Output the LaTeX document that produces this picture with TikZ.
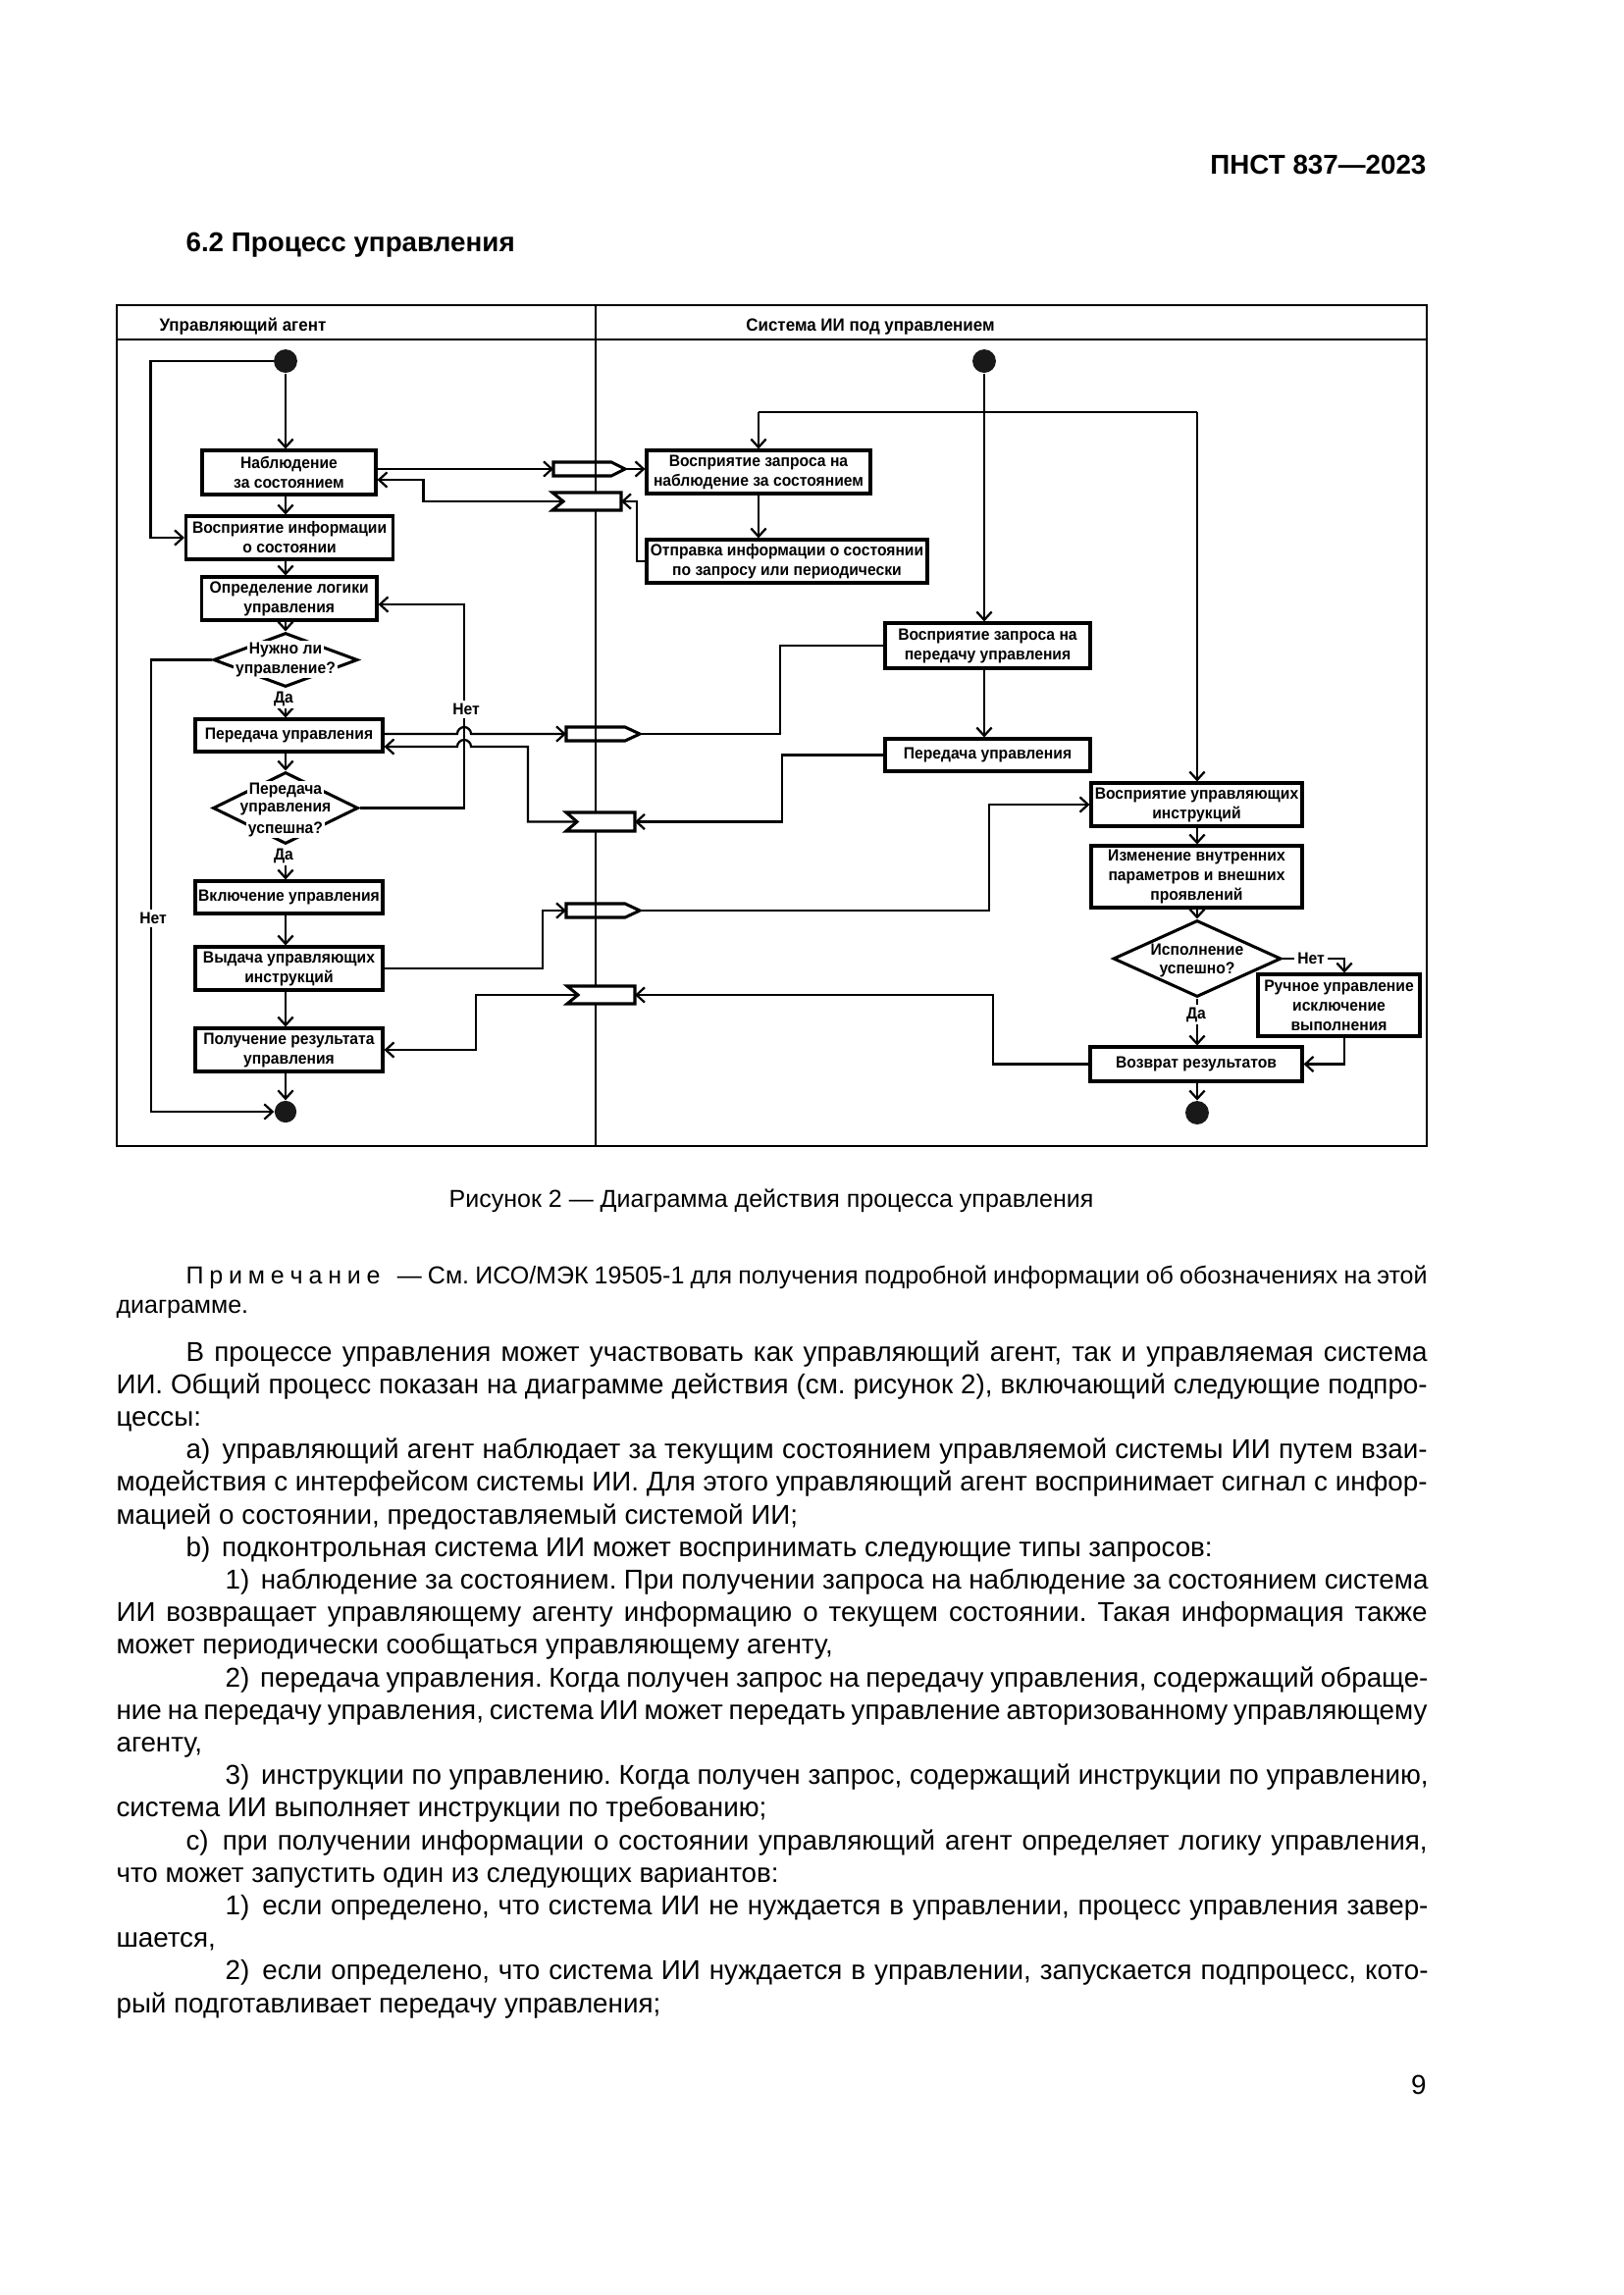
\documentclass[tikz,border=0pt]{standalone}
\usepackage{fontspec}
\setmainfont{Liberation Sans}
\newfontfamily\dfont[FakeStretch=0.94]{Liberation Sans}
\usetikzlibrary{arrows.meta,shapes.geometric}
\newcommand\dgf{\dfont\bfseries\fontsize{6}{7.2}\selectfont}
\newcommand\lanef{\dfont\bfseries\fontsize{6.5}{7.8}\selectfont}
\newcommand\bodyf{\fontsize{10}{12}\selectfont}
\newcommand\notef{\fontsize{9}{10.8}\selectfont}
\newcommand\drawbox[6]{\node[box,minimum width={(#4-#2)*0.36pt},minimum height={(#5-#3)*0.36pt}] (#1) at ({(#2+#4)/2},{(#3+#5)/2}) {#6};}
\frenchspacing
\begin{document}
\begin{tikzpicture}[x=0.36pt,y=-0.36pt,
  box/.style={draw,line width=1.1pt,inner sep=0pt,align=center,font=\dgf,fill=white},
  dia/.style={diamond,draw,line width=1.1pt,inner sep=0pt},
  dtxt/.style={font=\dgf,fill=white,inner sep=0.6pt},
  lbl/.style={font=\dgf,fill=white,inner sep=1pt},
  conn/.style={line width=0.8pt},
  arr/.style={conn,-{Straight Barb[length=3pt,width=5.5pt]}},
  sig/.style={line width=1.1pt},
  dot/.style={circle,fill=black!90,inner sep=0pt},
  txt/.style={anchor=base west,inner sep=0pt,font=\bodyf},
  ntxt/.style={anchor=base west,inner sep=0pt,font=\notef}]
\useasboundingbox[fill=white] (0,0) rectangle (1654,2339);

% header and title
\node[anchor=base east,inner sep=0pt,font=\bfseries\fontsize{10}{12}\selectfont] (hdr) at (1454,177) {ПНСТ 837—2023};
\node[anchor=base west,inner sep=0pt,font=\bfseries\fontsize{10}{12}\selectfont] (ttl) at (189,256) {6.2 Процесс управления};

% frame
\draw[line width=0.9pt] (119,311) rectangle (1454,1168);
\draw[line width=0.9pt] (119,346) -- (1454,346);
\draw[line width=0.9pt] (607,311) -- (607,1168);
\node[anchor=west,font=\lanef,inner sep=0pt] (laneA) at (162,333) {Управляющий агент};
\node[font=\lanef,inner sep=0pt] (laneB) at (887,333) {Система ИИ под управлением};

% left lane nodes
\node[dot,minimum size=8.6pt] (init1) at (291,368) {};
\drawbox{N1}{206}{459}{383}{504}{Наблюдение\\за состоянием}
\drawbox{V1}{189.5}{526}{400.7}{570}{Восприятие информации\\о состоянии}
\drawbox{D1}{205.5}{588}{384}{632}{Определение логики\\управления}
\node[dia,minimum width={147*0.36pt},minimum height={55*0.36pt}] (Q1) at (291,672.5) {};
\drawbox{P1}{199}{733}{390}{766}{Передача управления}
\node[dia,minimum width={148*0.36pt},minimum height={73*0.36pt}] (Q2) at (291,823.5) {};
\drawbox{B1}{199}{898}{390}{931}{Включение управления}
\drawbox{I1}{199}{965}{390}{1009}{Выдача управляющих\\инструкций}
\drawbox{G1}{199}{1048}{390}{1092}{Получение результата\\управления}
\node[dot,minimum size=8pt] (final1) at (291,1133) {};

% right lane nodes
\node[dot,minimum size=8.6pt] (init2) at (1003,368) {};
\drawbox{W1}{659}{459}{887}{503}{Восприятие запроса на\\наблюдение за состоянием}
\drawbox{O1}{659}{550}{945}{594}{Отправка информации о состоянии\\по запросу или периодически}
\drawbox{W2}{902}{635}{1111}{681}{Восприятие запроса на\\передачу управления}
\drawbox{P2}{902}{753}{1111}{786}{Передача управления}
\drawbox{W3}{1112}{798}{1327}{842}{Восприятие управляющих\\инструкций}
\drawbox{C1}{1112}{862}{1327}{925}{Изменение внутренних\\параметров и внешних\\проявлений}
\node[dia,minimum width={171*0.36pt},minimum height={78*0.36pt}] (Q3) at (1220,977) {};
\drawbox{M1}{1282}{993}{1447}{1056}{Ручное управление\\исключение\\выполнения}
\drawbox{V2}{1111}{1067}{1327}{1102}{Возврат результатов}
\node[dot,minimum size=8.6pt] (final2) at (1220,1134) {};

% signals
\coordinate (s1a) at (564,478); \coordinate (s1b) at (637,478);
\coordinate (s2a) at (577,748); \coordinate (s2b) at (652,748);
\coordinate (s3a) at (577,928); \coordinate (s3b) at (652,928);
\coordinate (r1a) at (574,511); \coordinate (r1b) at (633,511);
\coordinate (r2a) at (588,837.5); \coordinate (r2b) at (647,837.5);
\coordinate (r3a) at (589,1014); \coordinate (r3b) at (647,1014);
\draw[sig] (564,471) -- (623,471) -- (s1b) -- (623,485) -- (564,485) -- cycle;
\draw[sig] (577,741) -- (637,741) -- (s2b) -- (637,755) -- (577,755) -- cycle;
\draw[sig] (577,921) -- (637,921) -- (s3b) -- (637,935) -- (577,935) -- cycle;
\draw[sig,fill=white] (563,502) -- (633,502) -- (633,520) -- (563,520) -- (r1a) -- cycle;
\draw[sig,fill=white] (577,828) -- (647,828) -- (647,847) -- (577,847) -- (r2a) -- cycle;
\draw[sig,fill=white] (578,1005) -- (647,1005) -- (647,1023) -- (578,1023) -- (r3a) -- cycle;

% left lane flows
\draw[arr] (init1.south) -- (init1.south |- N1.north);
\draw[arr] (init1.west) -- ++(-125,0) |- (V1.west);
\draw[arr] (N1.south -| init1) -- (V1.north -| init1);
\draw[arr] (V1.south -| init1) -- (D1.north -| init1);
\draw[arr] (D1.south -| init1) -- (Q1.north);
\draw[arr] (Q1.south) -- (Q1.south |- P1.north);
\draw[arr] (P1.south -| Q2) -- (Q2.north);
\draw[arr] (Q2.south) -- (Q2.south |- B1.north);
\draw[arr] (B1.south -| Q2) -- (I1.north -| Q2);
\draw[arr] (I1.south -| Q2) -- (G1.north -| Q2);
\draw[arr] (G1.south -| final1) -- (final1.north);
\draw[arr] (Q1.west) -- ++(-62,0) |- (final1.west);
\coordinate (nR) at (473,616);
\draw[arr] (Q2.east) -| (nR) -- (nR -| D1.east);

% signal flows
\draw[arr] (s1a -| N1.east) -- (s1a);
\draw[arr] (s1b) -- (s1b -| W1.west);
\draw[arr] (O1.west) -| (649,511) -- (r1b);
\draw[arr] (r1a) -| (431.6,489) -- (N1.east |- 0,489);
\draw[arr] (P1.east |- 0,748) -- (466,748) arc[start angle=180,end angle=0,radius=2.52pt] -- (s2a);
\draw[arr] (r2a) -| (538,761) -- (480,761) arc[start angle=0,end angle=180,radius=2.52pt] -- (P1.east |- 0,761);
\draw[conn] (W2.west) -| (795,748) -- (s2b);
\draw[arr] (P2.west) -| (797,837.5) -- (r2b);
\draw[arr] (I1.east) -| (553,928) -- (s3a);
\draw[arr] (s3b) -| (1008,820) -- (W3.west);
\draw[arr] (V2.west) -| (1012,1014) -- (r3b);
\draw[arr] (r3a) -| (485,1070) -- (G1.east);

% right lane flows
\coordinate (fork1) at (773,420); \coordinate (fork2) at (1220,420);
\draw[arr] (init2.south) -- (init2.south |- W2.north);
\draw[conn] (fork1) -- (fork2);
\draw[arr] (fork1) -- (fork1 |- W1.north);
\draw[arr] (fork2) -- (fork2 |- W3.north);
\draw[arr] (W1.south -| fork1) -- (O1.north -| fork1);
\draw[arr] (W2.south -| init2) -- (P2.north -| init2);
\draw[arr] (W3.south -| fork2) -- (C1.north -| fork2);
\draw[arr] (C1.south -| Q3) -- (Q3.north);
\coordinate (mX) at (1370,977);
\draw[arr] (Q3.east) -- (mX) -- (mX |- M1.north);
\draw[arr] (M1.south -| mX) |- (V2.east);
\draw[arr] (Q3.south) -- (Q3.south |- V2.north);
\draw[arr] (V2.south -| final2) -- (final2.north);

% diamond texts and labels
\node[dtxt] (q1a) at (291,662) {Нужно ли};
\node[dtxt] (q1b) at (291,682) {управление?};
\node[dtxt] (q2a) at (291,805) {Передача};
\node[dtxt] (q2b) at (291,825) {управления};
\node[dtxt] (q2c) at (291,845) {успешна?};
\node[font=\dgf,inner sep=0pt] (q3a) at (1220,968) {Исполнение};
\node[font=\dgf,inner sep=0pt] (q3b) at (1220,988) {успешно?};
\node[lbl] (da1) at (289,712) {Да};
\node[lbl] (da2) at (289,872) {Да};
\node[lbl] (da3) at (1219,1034) {Да};
\node[lbl] (net1) at (156,936) {Нет};
\node[lbl] (net2) at (475,723) {Нет};
\node[lbl] (net3) at (1336,977) {Нет};

% caption and note
\node[anchor=base,inner sep=0pt,font=\notef] (cap) at (786,1230) {Рисунок 2 — Диаграмма действия процесса управления};
\node[ntxt] (n1) at (189,1308) {\makebox[455.4pt][s]{П\kern2.1pt р\kern2.1pt и\kern2.1pt м\kern2.1pt е\kern2.1pt ч\kern2.1pt а\kern2.1pt н\kern2.1pt и\kern2.1pt е\hspace{4pt} — См. ИСО/МЭК 19505-1 для получения подробной информации об обозначениях на этой}};
\node[ntxt] (n2) at (118,1338) {диаграмме.};

% body text
\node[txt] (t1) at (189,1387) {\makebox[455.4pt][s]{В процессе управления может участвовать как управляющий агент, так и управляемая система}};
\node[txt] (t2) at (118,1420.2) {\makebox[480.96pt][s]{ИИ. Общий процесс показан на диаграмме действия (см. рисунок 2), включающий следующие подпро-}};
\node[txt] (t3) at (118,1453.4) {цессы:};
\node[txt] (t4) at (189,1486.6) {\makebox[455.4pt][s]{a)\hspace{1.5pt} управляющий агент наблюдает за текущим состоянием управляемой системы ИИ путем взаи-}};
\node[txt] (t5) at (118,1519.8) {\makebox[480.96pt][s]{модействия с интерфейсом системы ИИ. Для этого управляющий агент воспринимает сигнал с инфор-}};
\node[txt] (t6) at (118,1553) {мацией о состоянии, предоставляемый системой ИИ;};
\node[txt] (t7) at (189,1586.2) {b)\hspace{1.5pt} подконтрольная система ИИ может воспринимать следующие типы запросов:};
\node[txt] (t8) at (229,1619.4) {\makebox[441.36pt][s]{1)\hspace{1.5pt} наблюдение за состоянием. При получении запроса на наблюдение за состоянием система}};
\node[txt] (t9) at (118,1652.6) {\makebox[480.96pt][s]{ИИ возвращает управляющему агенту информацию о текущем состоянии. Такая информация также}};
\node[txt] (t10) at (118,1685.8) {может периодически сообщаться управляющему агенту,};
\node[txt] (t11) at (229,1719) {\makebox[441.36pt][s]{2)\hspace{1.5pt} передача управления. Когда получен запрос на передачу управления, содержащий обраще-}};
\node[txt] (t12) at (118,1752.2) {\makebox[480.96pt][s]{ние на передачу управления, система ИИ может передать управление авторизованному управляющему}};
\node[txt] (t13) at (118,1785.4) {агенту,};
\node[txt] (t14) at (229,1818.6) {\makebox[441.36pt][s]{3)\hspace{1.5pt} инструкции по управлению. Когда получен запрос, содержащий инструкции по управлению,}};
\node[txt] (t15) at (118,1851.8) {система ИИ выполняет инструкции по требованию;};
\node[txt] (t16) at (189,1885) {\makebox[455.4pt][s]{c)\hspace{1.5pt} при получении информации о состоянии управляющий агент определяет логику управления,}};
\node[txt] (t17) at (118,1918.2) {что может запустить один из следующих вариантов:};
\node[txt] (t18) at (229,1951.4) {\makebox[441.36pt][s]{1)\hspace{1.5pt} если определено, что система ИИ не нуждается в управлении, процесс управления завер-}};
\node[txt] (t19) at (118,1984.6) {шается,};
\node[txt] (t20) at (229,2017.8) {\makebox[441.36pt][s]{2)\hspace{1.5pt} если определено, что система ИИ нуждается в управлении, запускается подпроцесс, кото-}};
\node[txt] (t21) at (118,2051) {рый подготавливает передачу управления;};
\node[anchor=base east,inner sep=0pt,font=\bodyf] (pg) at (1454,2134) {9};
\end{tikzpicture}
\end{document}
